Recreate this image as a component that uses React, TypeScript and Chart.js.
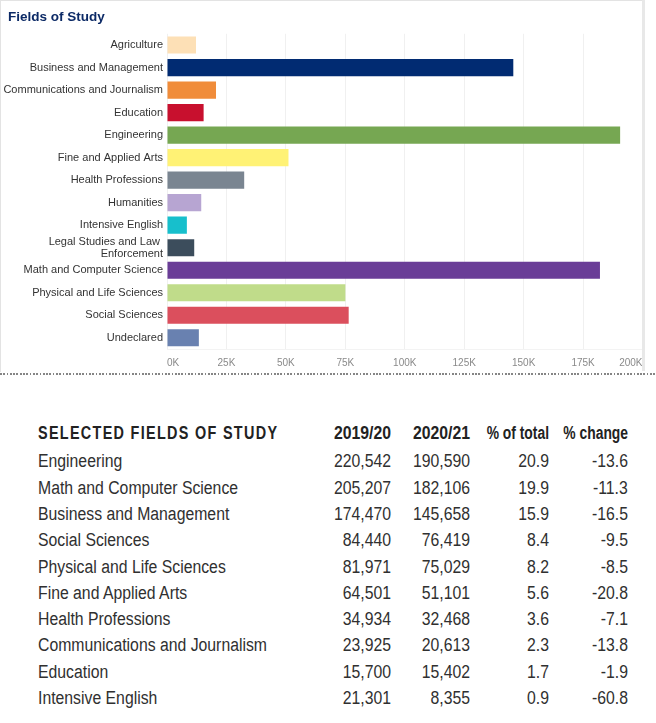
import React, { useEffect, useRef } from "react";
import { Chart, registerables } from "chart.js";

Chart.register(...registerables);

// ---- Bar chart data (2020/21 enrollment by field) ----
const chartTitle = "Fields of Study";
const categories: (string | string[])[] = [
  "Agriculture",
  "Business and Management",
  "Communications and Journalism",
  "Education",
  "Engineering",
  "Fine and Applied Arts",
  "Health Professions",
  "Humanities",
  "Intensive English",
  ["Legal Studies and Law ", "Enforcement"],
  "Math and Computer Science",
  "Physical and Life Sciences",
  "Social Sciences",
  "Undeclared",
];
const enrollment = [12200, 145658, 20613, 15402, 190590, 51101, 32468, 14400, 8355, 11450, 182106, 75029, 76419, 13400];
const barColors = [
  "#fde0b6",
  "#012b72",
  "#f08c3a",
  "#c8102e",
  "#76a752",
  "#fff275",
  "#7a8591",
  "#b7a5d2",
  "#17bfcc",
  "#3c4d5c",
  "#6a3d97",
  "#c0dc8a",
  "#db4f5d",
  "#6981b0",
];
const axisMax = 200000;
const axisStep = 25000;

// ---- Table data ----
const tableTitle = "SELECTED FIELDS OF STUDY";
const tableHeaders = ["2019/20", "2020/21", "% of total", "% change"];
const tableFields = [
  "Engineering",
  "Math and Computer Science",
  "Business and Management",
  "Social Sciences",
  "Physical and Life Sciences",
  "Fine and Applied Arts",
  "Health Professions",
  "Communications and Journalism",
  "Education",
  "Intensive English",
];
const students2019 = [220542, 205207, 174470, 84440, 81971, 64501, 34934, 23925, 15700, 21301];
const students2020 = [190590, 182106, 145658, 76419, 75029, 51101, 32468, 20613, 15402, 8355];
const pctOfTotal = ["20.9", "19.9", "15.9", "8.4", "8.2", "5.6", "3.6", "2.3", "1.7", "0.9"];
const pctChange = ["-13.6", "-11.3", "-16.5", "-9.5", "-8.5", "-20.8", "-7.1", "-13.8", "-1.9", "-60.8"];

const SANS = "'Liberation Sans', Arial, sans-serif";

const colRight = [391, 470, 549, 628];
const headerScale = [0.877, 0.877, 0.77, 0.77];
const rowTop0 = 461.3;
const rowStep = 26.3;
const bodyScale = 0.877;

function BarChart() {
  const ref = useRef<HTMLCanvasElement | null>(null);
  useEffect(() => {
    if (!ref.current) return;
    const chart = new Chart(ref.current, {
      type: "bar",
      data: {
        labels: categories as any,
        datasets: [
          {
            data: enrollment,
            backgroundColor: barColors,
            borderWidth: 0,
            barPercentage: 0.76,
            categoryPercentage: 1,
          },
        ],
      },
      options: {
        indexAxis: "y",
        responsive: false,
        animation: false,
        layout: { padding: { left: 0, right: 0, top: 33.8, bottom: 0 } },
        plugins: {
          legend: { display: false },
          tooltip: { enabled: false },
          title: { display: false },
        },
        scales: {
          x: {
            min: 0,
            max: axisMax,
            grid: { color: "#f0f0f0", lineWidth: 1, drawTicks: false },
            border: { display: true, color: "#f3f3f3" },
            afterFit: (scale: any) => {
              scale.height = 21;
            },
            ticks: {
              stepSize: axisStep,
              autoSkip: false,
              maxRotation: 0,
              align: "inner",
              padding: 8.5,
              color: "#8a8a8a",
              font: { family: SANS, size: 10, lineHeight: 1.2 },
              callback: (v: any) => `${Number(v) / 1000}K`,
            },
          },
          y: {
            grid: { display: false, drawTicks: false },
            border: { display: false },
            afterFit: (scale: any) => {
              scale.width = 167;
            },
            ticks: {
              padding: 4,
              color: "#333333",
              font: { family: SANS, size: 11, lineHeight: 1.07 },
              autoSkip: false,
            },
          },
        },
      } as any,
    });
    return () => chart.destroy();
  }, []);
  return (
    <canvas
      ref={ref}
      width={651}
      height={370}
      style={{ position: "absolute", left: 0, top: 0, width: 651, height: 370, display: "block" }}
    />
  );
}

const fmt = (n: number) => n.toLocaleString("en-US");

function cell(text: string, right: number, center: number, bold: boolean, scale: number, key: string) {
  return (
    <div
      key={key}
      style={{
        position: "absolute",
        right: 656 - right,
        top: center - 12,
        height: 24,
        lineHeight: "24px",
        whiteSpace: "nowrap",
        textAlign: "right",
        fontFamily: SANS,
        fontSize: 18,
        fontWeight: bold ? 700 : 400,
        color: bold ? "#222" : "#303030",
        transform: `scaleX(${scale})`,
        transformOrigin: "right center",
      }}
    >
      {text}
    </div>
  );
}

export default function App() {
  return (
    <div
      style={{
        position: "absolute",
        left: 0,
        top: 0,
        width: 656,
        height: 723,
        background: "#fff",
        overflow: "hidden",
      }}
    >
      <BarChart />
      {/* chart title */}
      <div
        style={{
          position: "absolute",
          left: 8,
          top: 17 - 8,
          height: 16,
          lineHeight: "16px",
          whiteSpace: "nowrap",
          fontFamily: SANS,
          fontSize: 13.5,
          fontWeight: 700,
          color: "#0c2a66",
        }}
      >
        {chartTitle}
      </div>
      {/* panel borders */}
      <div style={{ position: "absolute", left: 0, top: 0, width: 643, height: 1, background: "#e3e3e3" }} />
      <div style={{ position: "absolute", left: 0, top: 0, width: 1, height: 372, background: "#e3e3e3" }} />
      <div style={{ position: "absolute", left: 642, top: 0, width: 3, height: 371, background: "#e8e8e8" }} />
      <div style={{ position: "absolute", left: 645, top: 0, width: 11, height: 372, background: "#fff" }} />
      {/* dotted separator */}
      <div
        style={{
          position: "absolute",
          left: 0,
          top: 373,
          width: 656,
          height: 2,
          background: "repeating-linear-gradient(to right, #858585 0px, #858585 1.7px, transparent 1.7px, transparent 3.3px)",
        }}
      />
      {/* table */}
      <div
        style={{
          position: "absolute",
          left: 38,
          top: 433.4 - 12,
          height: 24,
          lineHeight: "24px",
          whiteSpace: "nowrap",
          fontFamily: SANS,
          fontSize: 18,
          fontWeight: 700,
          letterSpacing: "1.64px",
          color: "#222",
          transform: "scaleX(0.8)",
          transformOrigin: "left center",
        }}
      >
        {tableTitle}
      </div>
      {tableHeaders.map((h, i) => cell(h, colRight[i], 433.4, true, headerScale[i], "h" + i))}
      {tableFields.map((f, r) => {
        const y = rowTop0 + r * rowStep;
        return (
          <React.Fragment key={"r" + r}>
            <div
              style={{
                position: "absolute",
                left: 38,
                top: y - 12,
                height: 24,
                lineHeight: "24px",
                whiteSpace: "nowrap",
                fontFamily: SANS,
                fontSize: 18,
                color: "#303030",
                transform: `scaleX(${bodyScale})`,
                transformOrigin: "left center",
              }}
            >
              {f}
            </div>
            {cell(fmt(students2019[r]), colRight[0], y, false, bodyScale, "a" + r)}
            {cell(fmt(students2020[r]), colRight[1], y, false, bodyScale, "b" + r)}
            {cell(pctOfTotal[r], colRight[2], y, false, bodyScale, "c" + r)}
            {cell(pctChange[r], colRight[3], y, false, bodyScale, "d" + r)}
          </React.Fragment>
        );
      })}
    </div>
  );
}
